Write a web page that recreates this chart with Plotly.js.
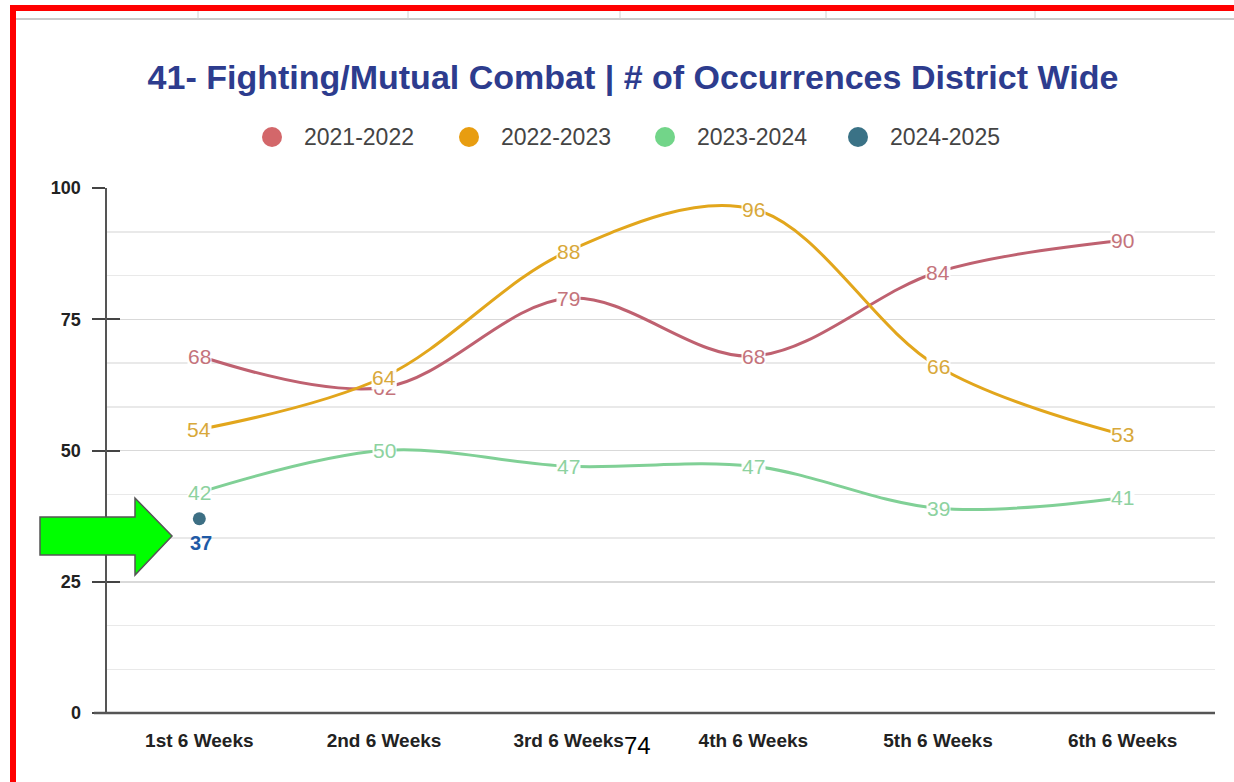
<!DOCTYPE html>
<html>
<head>
<meta charset="utf-8">
<script src="https://cdn.plot.ly/plotly-3.0.1.min.js"></script>
<style>
html,body{margin:0;padding:0;background:#fff;}
#chart{width:1234px;height:782px;}
</style>
</head>
<body>
<div id="chart"></div>
<script>
// ---- data ----
const categories = ["1st 6 Weeks","2nd 6 Weeks","3rd 6 Weeks","4th 6 Weeks","5th 6 Weeks","6th 6 Weeks"];
const seriesNames = ["2021-2022","2022-2023","2023-2024","2024-2025"];
const values2021 = [68, 62, 79, 68, 84, 90];
const values2022 = [54, 64, 88, 96, 66, 53];
const values2023 = [42, 50, 47, 47, 39, 41];
const values2024 = [37];
const yTicks = [0, 25, 50, 75, 100];
const titleText = "41- Fighting/Mutual Combat | # of Occurrences District Wide";
const pageNumber = "74";

// ---- styles ----
const W = 1234, H = 782;
const M = {l:107, r:19, t:188, b:69};
const PW = W - M.l - M.r, PH = H - M.t - M.b;
const px = x => (x - M.l) / PW;
const py = y => (H - M.b - y) / PH;

const lineColors = ["#bf6170", "#e2a61c", "#80d096", "#3d6f84"];
const labelColors = ["#c4737b", "#d8a83a", "#8dd29f", "#1f5aa6"];
const legendColors = ["#d3676a", "#e89d10", "#72d589", "#3a7286"];
const legendCentersX = [272, 469, 665, 858];

const lineSeries = [values2021, values2022, values2023];
const traces = [];
lineSeries.forEach((vals, i) => {
  traces.push({
    x: categories.slice(0, vals.length), y: vals, type: "scatter", mode: "lines",
    line: {color: lineColors[i], width: 3, shape: "spline", smoothing: 1},
    showlegend: false, hoverinfo: "x+y", name: seriesNames[i]
  });
});
traces.push({
  x: categories.slice(0, values2024.length), y: values2024, type: "scatter", mode: "markers",
  marker: {color: lineColors[3], size: 13},
  showlegend: false, name: seriesNames[3]
});
// y2 dummy to draw inner ticks
traces.push({x: [categories[0]], y: [null], yaxis: "y2", type: "scatter", mode: "markers", showlegend: false, hoverinfo: "skip"});

const annotations = [];
lineSeries.forEach((vals, i) => {
  vals.forEach((v, j) => {
    annotations.push({
      x: categories[j], y: v, xref: "x", yref: "y", text: String(v), showarrow: false,
      font: {family: "Liberation Sans, Arial, sans-serif", size: 21, color: labelColors[i]},
      bgcolor: "rgba(255,255,255,0.95)", borderpad: 0, xanchor: "center", yanchor: "middle"
    });
  });
});
values2024.forEach((v, j) => {
  annotations.push({
    x: categories[j], y: v, xref: "x", yref: "y", text: "<b>" + v + "</b>", showarrow: false,
    font: {family: "Liberation Sans, Arial, sans-serif", size: 20, color: labelColors[3]},
    xanchor: "center", yanchor: "middle", yshift: -24, xshift: 2
  });
});
// custom legend labels
seriesNames.forEach((n, i) => {
  annotations.push({
    x: px(legendCentersX[i] + 30), y: py(137), xref: "paper", yref: "paper", text: n, showarrow: false,
    font: {family: "Liberation Sans, Arial, sans-serif", size: 23, color: "#444"},
    xanchor: "left", yanchor: "middle"
  });
});
annotations.push({
  x: px(637), y: py(745), xref: "paper", yref: "paper", text: pageNumber, showarrow: false,
  font: {family: "Liberation Sans, Arial", size: 24, color: "#000"},
  xanchor: "center", yanchor: "middle"
});

const arrowPts = [[40,517],[135,517],[135,498],[172,536],[135,575],[135,555],[40,555]];
const arrowPath = "M" + arrowPts.map(p => px(p[0]).toFixed(5) + "," + py(p[1]).toFixed(5)).join(" L") + " Z";

const shapes = [
  // red frame
  {type: "rect", xref: "paper", yref: "paper", x0: px(10), x1: px(16), y0: py(782), y1: py(5), fillcolor: "#ff0000", line: {width: 0}},
  {type: "rect", xref: "paper", yref: "paper", x0: px(10), x1: px(1234), y0: py(11), y1: py(5), fillcolor: "#ff0000", line: {width: 0}},
  // spreadsheet grid remnants
  {type: "line", xref: "paper", yref: "paper", x0: px(16), x1: px(1234), y0: py(19), y1: py(19), line: {color: "#b8b8b8", width: 1.5}},
  ...[198, 408, 620, 826, 1035].map(x => ({type: "line", xref: "paper", yref: "paper", x0: px(x), x1: px(x), y0: py(11), y1: py(19), line: {color: "#d0d0d0", width: 1}})),
  // green arrow
  {type: "path", xref: "paper", yref: "paper", path: arrowPath, fillcolor: "#00ff00", line: {color: "#555555", width: 1.5}},
  // x-axis line extension
  {type: "line", xref: "paper", yref: "paper", x0: px(94), x1: 1, y0: 0, y1: 0, line: {color: "#555555", width: 2.5}},
  // legend circles
  ...legendCentersX.map((cx, i) => ({type: "circle", xref: "paper", yref: "paper",
    x0: px(cx - 10), x1: px(cx + 10), y0: py(147), y1: py(127),
    fillcolor: legendColors[i], line: {width: 0}}))
];

const layout = {
  width: W, height: H,
  margin: M,
  paper_bgcolor: "#ffffff", plot_bgcolor: "#ffffff",
  title: {
    text: titleText, x: px(633), xref: "paper", xanchor: "center",
    y: 1 - 77 / H, yref: "container", yanchor: "middle",
    font: {family: "Liberation Sans, Arial, sans-serif", size: 34, color: "#2d3c8e", weight: "bold"}
  },
  showlegend: false,
  xaxis: {
    type: "category", categoryarray: categories, range: [-0.5, 5.5],
    showgrid: false, zeroline: false, showline: false, ticks: "",
    ticklabelstandoff: 14,
    tickfont: {family: "Liberation Sans, Arial, sans-serif", size: 19, color: "#222", weight: "bold"},
    fixedrange: true
  },
  yaxis: {
    range: [0, 100], tickvals: yTicks, ticktext: yTicks.map(String),
    showgrid: true, gridcolor: "#d9d9d9", gridwidth: 1.5,
    minor: {dtick: 25/3, tick0: 0, showgrid: true, gridcolor: "#e9e9e9", gridwidth: 1.5, ticks: ""},
    zeroline: false, showline: true, linecolor: "#555555", linewidth: 2.5,
    ticks: "outside", ticklen: 13, tickwidth: 2, tickcolor: "#444",
    ticklabelstandoff: 7,
    tickfont: {family: "Liberation Sans, Arial, sans-serif", size: 18, color: "#222", weight: "bold"},
    fixedrange: true
  },
  yaxis2: {
    overlaying: "y", side: "left", range: [0, 100], tickvals: yTicks, showticklabels: false,
    showgrid: false, zeroline: false, showline: false,
    ticks: "inside", ticklen: 13, tickwidth: 2, tickcolor: "#444", fixedrange: true
  },
  annotations: annotations,
  shapes: shapes
};

Plotly.newPlot("chart", traces, layout, {displayModeBar: false, staticPlot: true});
</script>
</body>
</html>
